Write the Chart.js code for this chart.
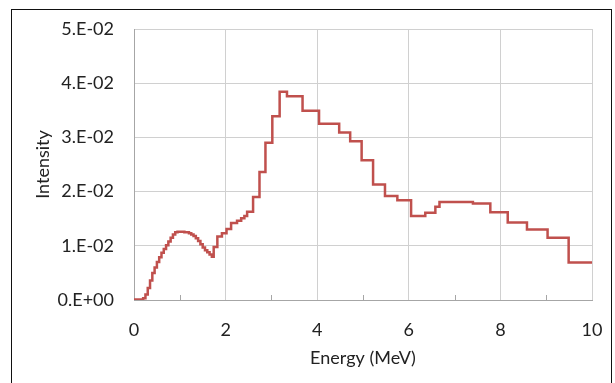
<!DOCTYPE html>
<html><head><meta charset="utf-8">
<script src="https://cdn.jsdelivr.net/npm/chart.js@4"></script>
<style>
html,body{margin:0;padding:0;background:#fff;}
#wrap{position:relative;width:615px;height:383px;overflow:hidden;}
#frame{position:absolute;left:11px;top:9px;width:601px;height:420px;border:1px solid #111;box-sizing:border-box;pointer-events:none;}
canvas{position:absolute;left:0;top:0;}
</style></head><body>
<div id="wrap"><canvas id="c" width="615" height="383"></canvas><div id="frame"></div></div>
<script>
// Left edges of energy bins (MeV) and intensity in each bin
const binEdges = [0.00,0.20,0.25,0.30,0.35,0.40,0.45,0.50,0.55,0.60,0.65,0.70,0.75,0.80,0.85,0.90,0.95,1.10,1.20,1.25,1.30,1.35,1.40,1.45,1.50,1.55,1.60,1.65,1.70,1.74,1.82,1.92,2.02,2.12,2.25,2.34,2.41,2.47,2.60,2.74,2.87,3.02,3.18,3.34,3.68,4.04,4.48,4.72,4.97,5.22,5.48,5.75,6.05,6.36,6.58,6.67,7.40,7.78,8.16,8.58,9.03,9.49];
const intensity = [0.0001,0.0003,0.0010,0.0022,0.0036,0.0050,0.0060,0.0070,0.0079,0.0087,0.0094,0.0101,0.0108,0.0115,0.0121,0.0125,0.0126,0.0125,0.0123,0.0121,0.0118,0.0114,0.0109,0.0103,0.0097,0.0092,0.0088,0.0084,0.0080,0.0098,0.0117,0.0123,0.0131,0.0142,0.0146,0.0151,0.0155,0.0163,0.0190,0.0236,0.0290,0.0339,0.0384,0.0376,0.0349,0.0325,0.0309,0.0293,0.0258,0.0213,0.0192,0.0184,0.0155,0.0161,0.0172,0.0181,0.0178,0.0162,0.0143,0.0130,0.0115,0.0069];
const lastEdge = 10;
const xTickValues = [0,2,4,6,8,10];
const xMinorTicks = [1,3,5,7,9];
const yTickValues = [0,0.01,0.02,0.03,0.04,0.05];
const yTickLabels = ['0.E+00','1.E-02','2.E-02','3.E-02','4.E-02','5.E-02'];

const points = binEdges.map((e,i)=>({x:e,y:intensity[i]}));
points.push({x:lastEdge,y:intensity[intensity.length-1]});

const minorTickPlugin = {
  id:'minorTicks',
  afterDatasetsDraw(chart){
    const ctx = chart.ctx, xs = chart.scales.x, b = chart.chartArea.bottom;
    ctx.save();
    ctx.strokeStyle = '#a6a6a6';
    ctx.lineWidth = 1;
    xMinorTicks.forEach(v=>{
      const px = Math.round(xs.getPixelForValue(v))+0.5;
      ctx.beginPath(); ctx.moveTo(px,b); ctx.lineTo(px,b-5); ctx.stroke();
    });
    ctx.restore();
  }
};

const FONT = 'Lato';
new Chart(document.getElementById('c'),{
  type:'line',
  data:{datasets:[{data:points,borderColor:'#C0504D',borderWidth:2.5,pointRadius:0,stepped:true,fill:false,tension:0}]},
  options:{
    responsive:false,animation:false,
    layout:{padding:{left:0,right:23,top:29,bottom:0}},
    plugins:{legend:{display:false},tooltip:{enabled:false}},
    scales:{
      x:{type:'linear',min:0,max:10,
        afterBuildTicks(s){s.ticks = xTickValues.map(v=>({value:v}));},
        afterFit(s){s.height = 83;},
        grid:{color:'#d0d0d0',lineWidth:1,drawTicks:true,tickLength:19,tickColor:'rgba(0,0,0,0)'},
        border:{color:'#a6a6a6',width:1},
        ticks:{padding:0,color:'#222',font:{family:FONT,size:18},maxRotation:0,callback:(v)=>String(v)},
        title:{display:true,text:'Energy (MeV)',color:'#222',font:{family:FONT,size:18},padding:{top:0,bottom:14}}
      },
      y:{type:'linear',min:0,max:0.05,
        afterBuildTicks(s){s.ticks = yTickValues.map(v=>({value:v}));},
        afterFit(s){s.width = 134;},
        grid:{color:'#d0d0d0',lineWidth:1,drawTicks:true,tickLength:20,tickColor:'rgba(0,0,0,0)'},
        border:{color:'#a6a6a6',width:1},
        ticks:{padding:0,color:'#222',font:{family:FONT,size:18},callback:(v)=>{const i=yTickValues.findIndex(t=>Math.abs(t-v)<1e-9);return i>=0?yTickLabels[i]:'';}},
        title:{display:true,text:'Intensity',color:'#222',font:{family:FONT,size:18},padding:{top:32,bottom:0}}
      }
    }
  },
  plugins:[minorTickPlugin]
});
</script>
</body></html>
